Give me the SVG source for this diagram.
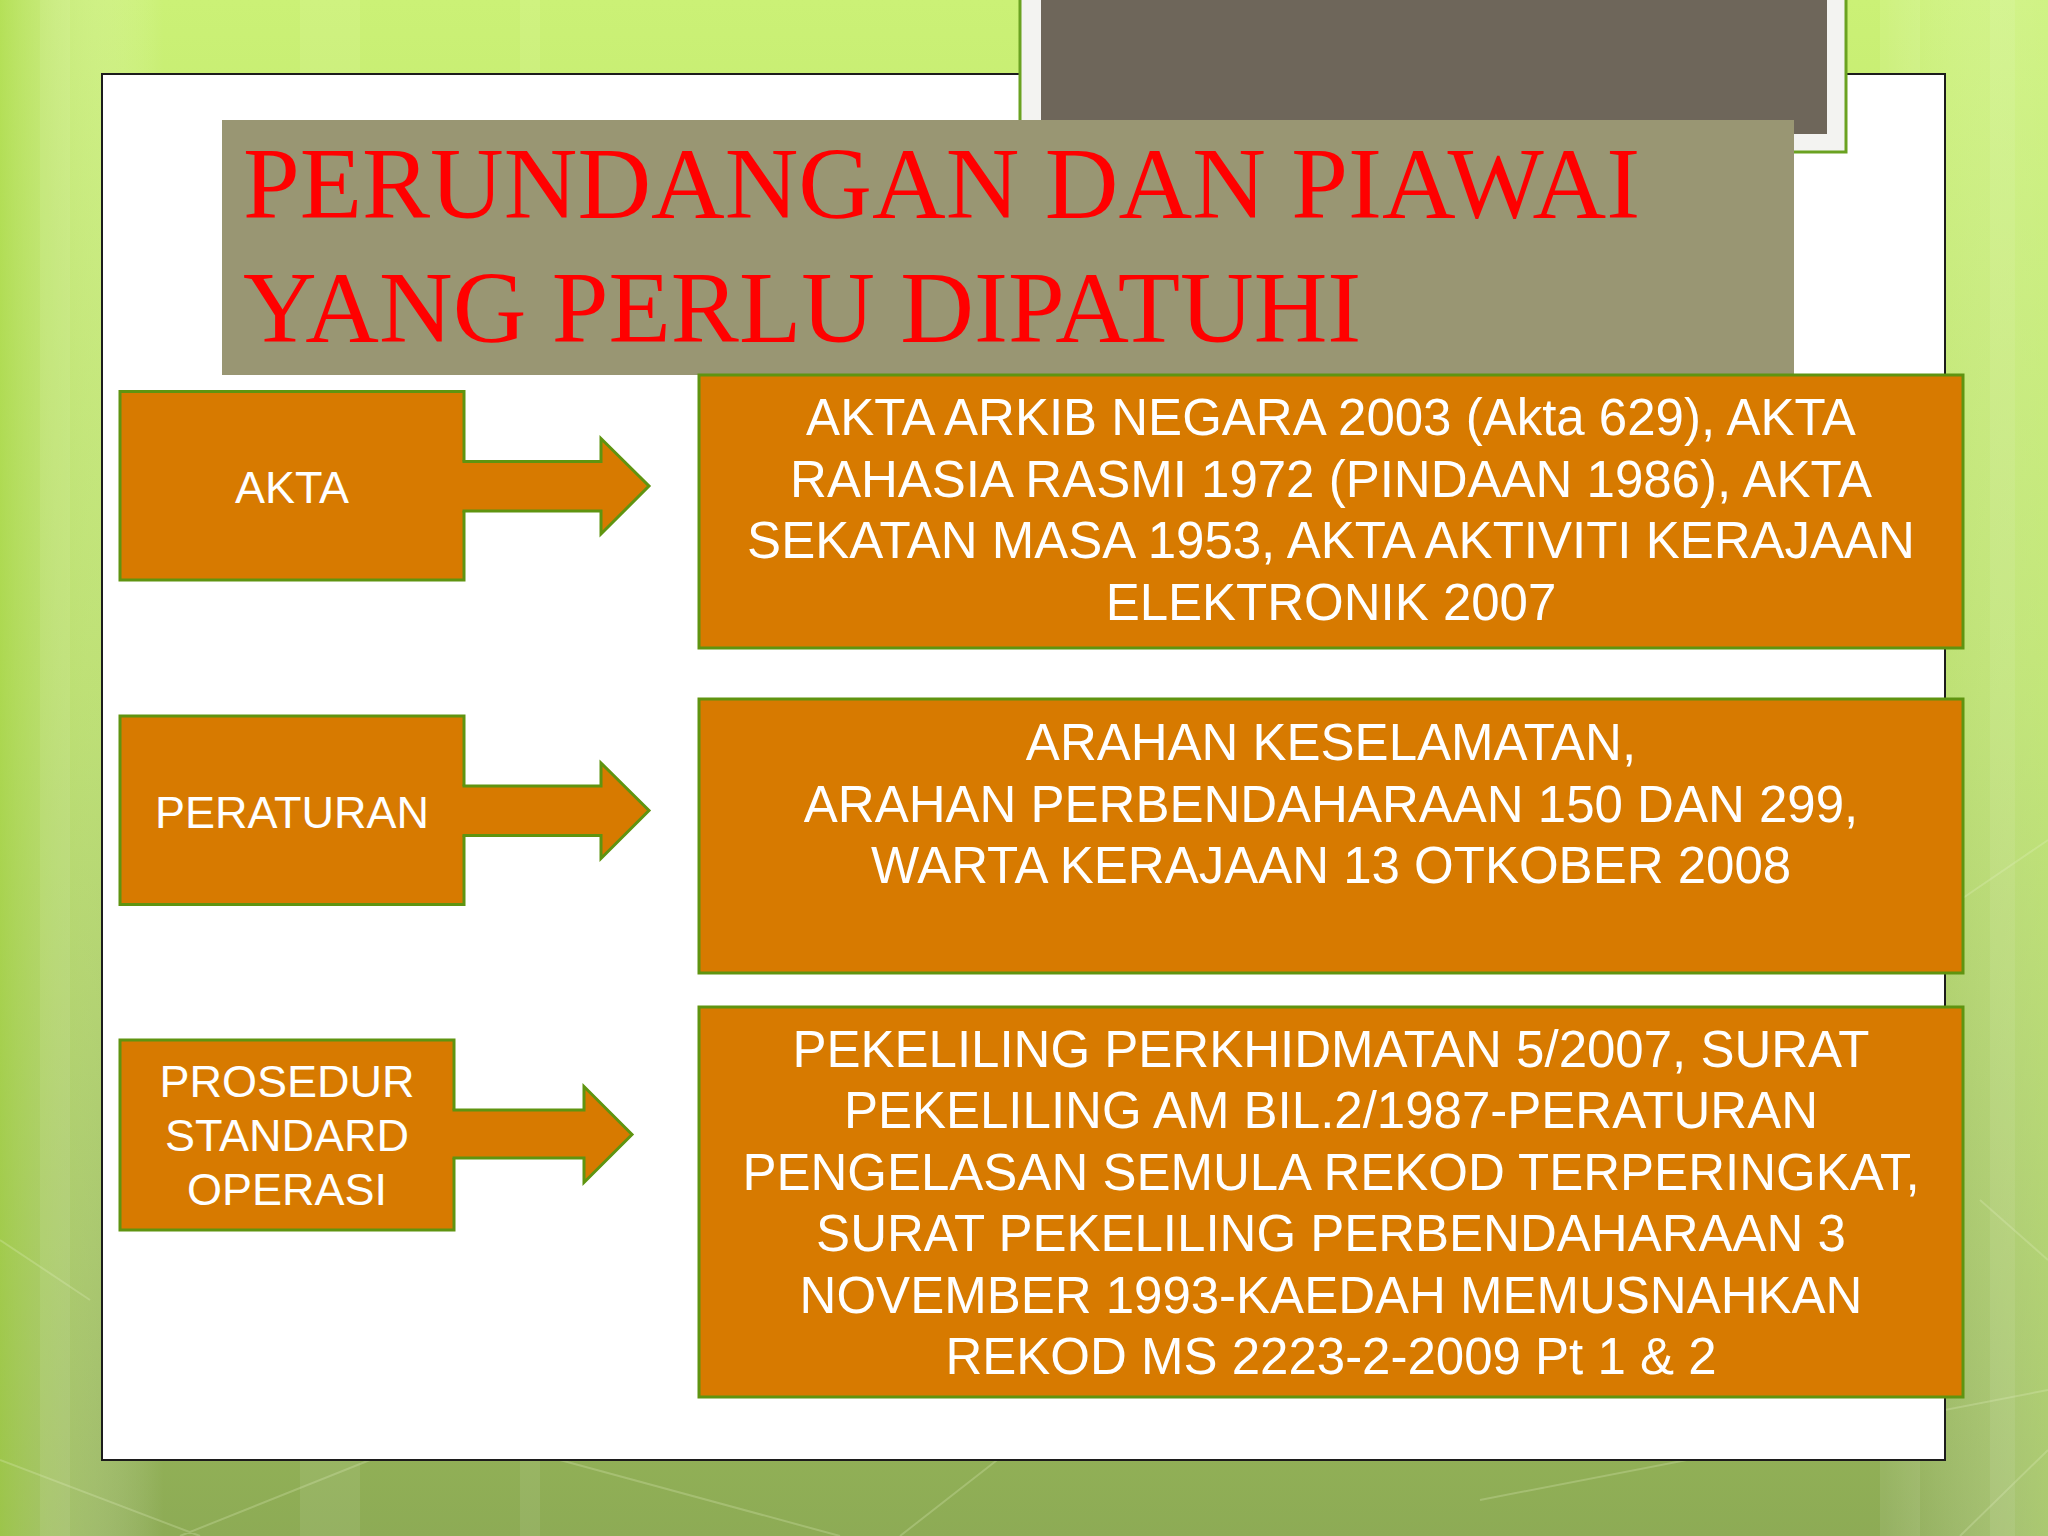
<svg xmlns="http://www.w3.org/2000/svg" width="2048" height="1536" viewBox="0 0 2048 1536">
<defs>
<linearGradient id="bg" x1="0" y1="0" x2="0" y2="1">
<stop offset="0" stop-color="#cbf176"/>
<stop offset="0.45" stop-color="#b5dc63"/>
<stop offset="1" stop-color="#8dab55"/>
</linearGradient>
<linearGradient id="side" x1="0" y1="0" x2="1" y2="0">
<stop offset="0" stop-color="#a6d544" stop-opacity="0.6"/>
<stop offset="0.08" stop-color="#ffffff" stop-opacity="0"/>
<stop offset="0.92" stop-color="#ffffff" stop-opacity="0"/>
<stop offset="1" stop-color="#d6f59a" stop-opacity="0.4"/>
</linearGradient>
<style>
.box{fill:#d77a00;stroke:#5f9410;stroke-width:3}
.afill{fill:#d77a00;stroke:none}
.aline{fill:none;stroke:#5f9410;stroke-width:3;stroke-linejoin:miter}
.lbl{font-family:"Liberation Sans",Arial,sans-serif;fill:#ffffff;text-anchor:middle}
.l{font-size:45px}
.r{font-size:51px}
.title{font-family:"Liberation Serif","Times New Roman",serif;font-size:102px;fill:#ff0000}
.stripe{fill:#ffffff;opacity:0.08}
.fline{stroke:#e8f5c8;stroke-width:2;opacity:0.25;fill:none}
</style>
</defs>
<!-- background -->
<rect x="0" y="0" width="2048" height="1536" fill="url(#bg)"/>
<rect x="0" y="0" width="2048" height="1536" fill="url(#side)"/>
<rect class="stripe" x="40" y="0" width="30" height="1536"/>
<rect class="stripe" x="300" y="0" width="60" height="1536"/>
<rect class="stripe" x="520" y="0" width="20" height="1536"/>
<rect class="stripe" x="1880" y="0" width="40" height="1536"/>
<rect class="stripe" x="1990" y="0" width="25" height="1536"/>
<path class="fline" d="M0,1460 L200,1536 M180,1536 L420,1440 M560,1460 L840,1536 M900,1536 L1010,1450 M1480,1500 L2048,1390 M1960,1536 L2048,1450 M0,1240 L90,1300 M1960,900 L2048,840 M1980,1200 L2048,1260"/>
<!-- white panel -->
<rect x="102" y="74" width="1843" height="1386" fill="#ffffff" stroke="#1c1c1c" stroke-width="2"/>
<!-- photo frame -->
<rect x="1020" y="-10" width="826" height="162" fill="#f3f3f1" stroke="#6aa221" stroke-width="3"/>
<rect x="1041" y="-10" width="786" height="144" fill="#6e665a"/>
<!-- title -->
<g id="title">
<rect x="222" y="120" width="1572" height="255" fill="#999673"/>
<text class="title" x="243" y="218">PERUNDANGAN DAN PIAWAI</text>
<text class="title" x="243" y="342">YANG PERLU DIPATUHI</text>
</g>
<!-- left nodes -->
<g id="akta">
<rect class="box" x="120" y="391.5" width="344" height="188.5"/>
<text class="lbl l" x="292" y="503">AKTA</text>
</g>
<g id="peraturan">
<rect class="box" x="120" y="716" width="344" height="188.5"/>
<text class="lbl l" x="292" y="828">PERATURAN</text>
</g>
<g id="prosedur">
<rect class="box" x="120" y="1040" width="334" height="190"/>
<text class="lbl l" x="287" y="1097">PROSEDUR</text>
<text class="lbl l" x="287" y="1151">STANDARD</text>
<text class="lbl l" x="287" y="1205">OPERASI</text>
</g>
<!-- connectors (block arrows) -->
<g id="connectors">
<path class="afill" d="M462,461.5 H601 V438.5 L649,486 L601,534 V511 H462 Z"/>
<path class="aline" d="M462.5,461.5 H601 V438.5 L649,486 L601,534 V511 H462.5"/>
<path class="afill" d="M462,786 H601 V763 L649,810.5 L601,858.5 V835.5 H462 Z"/>
<path class="aline" d="M462.5,786 H601 V763 L649,810.5 L601,858.5 V835.5 H462.5"/>
<path class="afill" d="M452,1110 H584 V1086.5 L632,1134.5 L584,1182.5 V1158 H452 Z"/>
<path class="aline" d="M452.5,1110 H584 V1086.5 L632,1134.5 L584,1182.5 V1158 H452.5"/>
</g>
<!-- right nodes -->
<g id="akta-detail">
<rect class="box" x="699" y="375" width="1264" height="273"/>
<text class="lbl r" x="1331" y="435">AKTA ARKIB NEGARA 2003 (Akta 629), AKTA</text>
<text class="lbl r" x="1331" y="497">RAHASIA RASMI 1972 (PINDAAN 1986), AKTA</text>
<text class="lbl r" x="1331" y="558">SEKATAN MASA 1953, AKTA AKTIVITI KERAJAAN</text>
<text class="lbl r" x="1331" y="620">ELEKTRONIK 2007</text>
</g>
<g id="peraturan-detail">
<rect class="box" x="699" y="699" width="1264" height="274"/>
<text class="lbl r" x="1331" y="760">ARAHAN KESELAMATAN,</text>
<text class="lbl r" x="1331" y="822">ARAHAN PERBENDAHARAAN 150 DAN 299,</text>
<text class="lbl r" x="1331" y="883">WARTA KERAJAAN 13 OTKOBER 2008</text>
</g>
<g id="prosedur-detail">
<rect class="box" x="699" y="1007" width="1264" height="390"/>
<text class="lbl r" x="1331" y="1067">PEKELILING PERKHIDMATAN 5/2007, SURAT</text>
<text class="lbl r" x="1331" y="1128">PEKELILING AM BIL.2/1987-PERATURAN</text>
<text class="lbl r" x="1331" y="1190">PENGELASAN SEMULA REKOD TERPERINGKAT,</text>
<text class="lbl r" x="1331" y="1251">SURAT PEKELILING PERBENDAHARAAN 3</text>
<text class="lbl r" x="1331" y="1313">NOVEMBER 1993-KAEDAH MEMUSNAHKAN</text>
<text class="lbl r" x="1331" y="1374">REKOD MS 2223-2-2009 Pt 1 &amp; 2</text>
</g>
</svg>
